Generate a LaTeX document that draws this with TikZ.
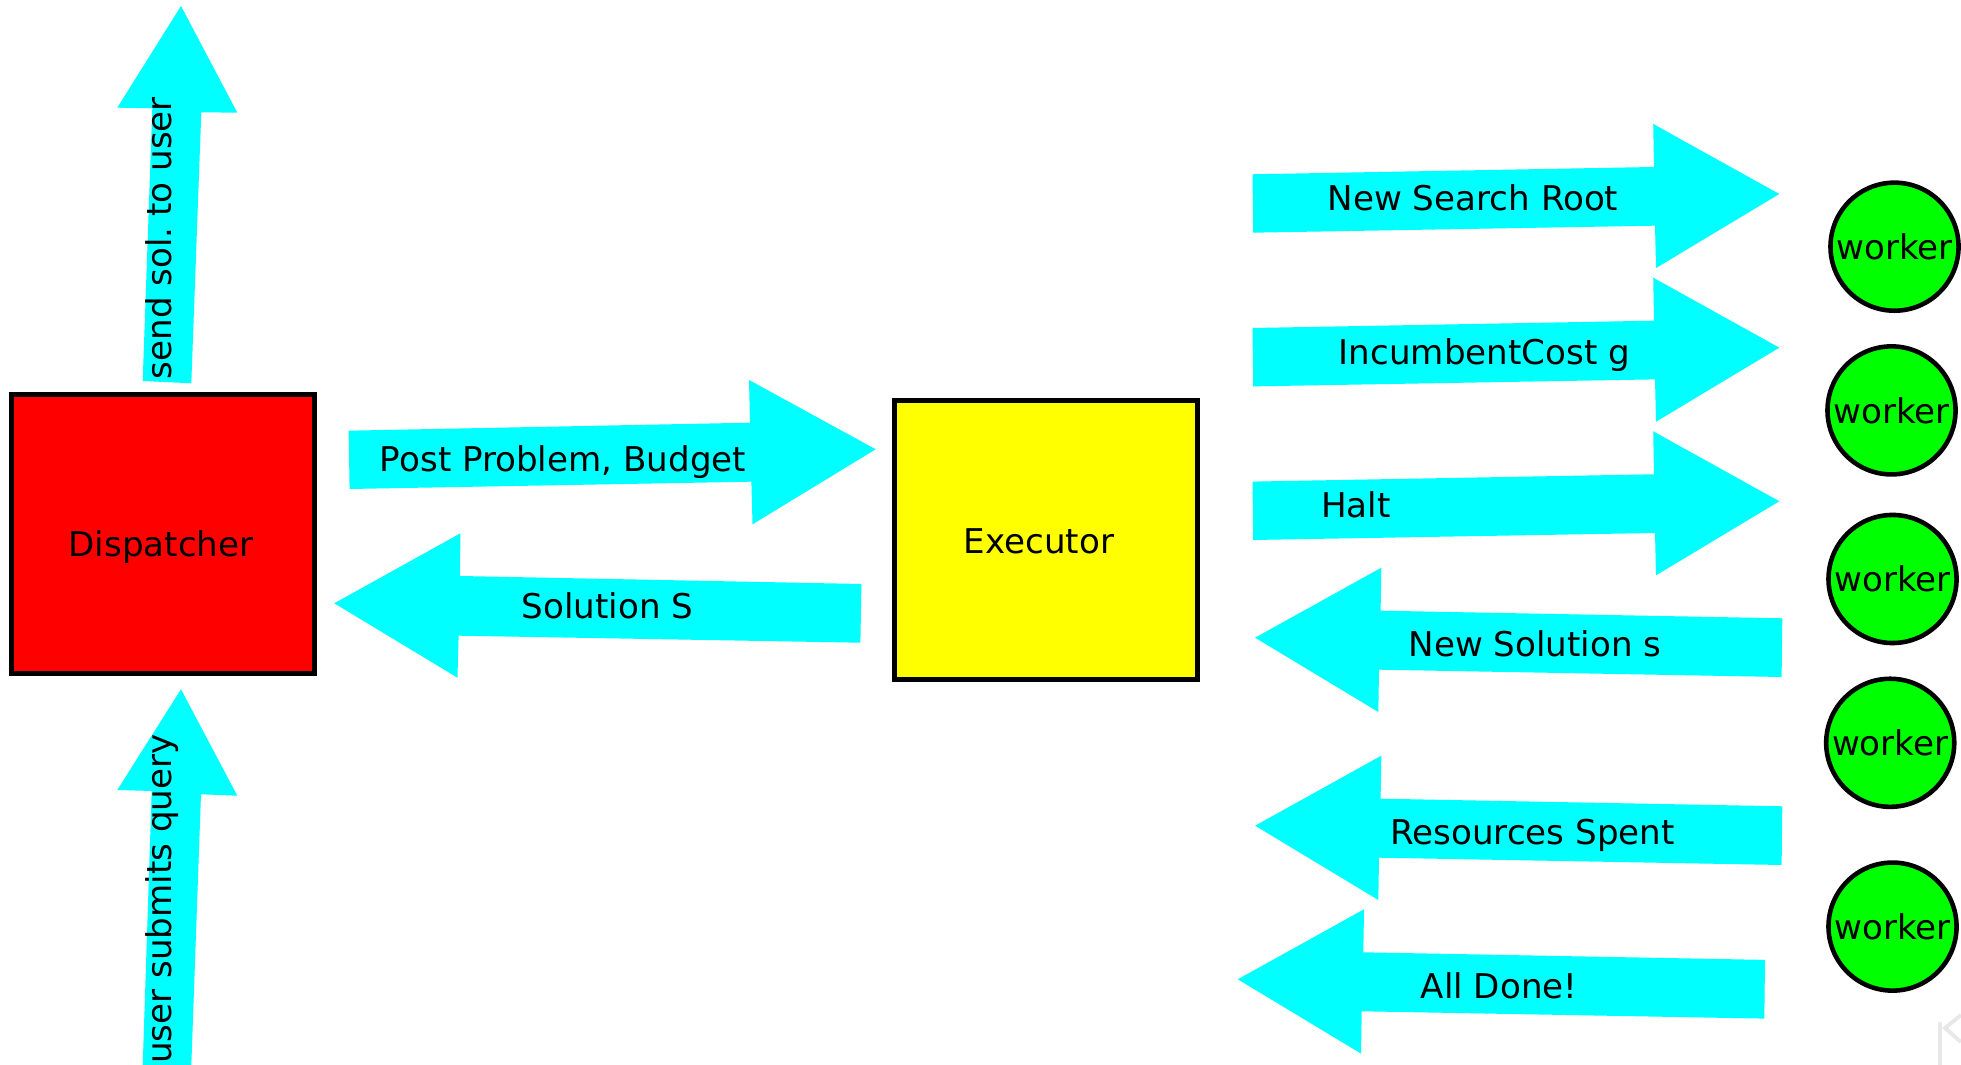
\documentclass[tikz,border=0pt]{standalone}
\usepackage{fontspec}
\setmainfont{DejaVu Sans}
\usetikzlibrary{positioning}
\definecolor{flowcyan}{RGB}{0,255,255}
\definecolor{dispred}{RGB}{255,0,0}
\definecolor{execyellow}{RGB}{255,255,0}
\definecolor{workergreen}{RGB}{0,255,0}

\begin{document}
\begin{tikzpicture}[x=0.01cm,y=-0.01cm,
  lab/.style={font=\fontsize{9.7}{11.5}\selectfont,inner sep=0pt},
  flow/.style={fill=flowcyan},
  unit/.style={draw=black,line width=1.45pt,minimum width=3.03cm,minimum height=2.79cm},
  worker/.style={circle,draw=black,line width=1.3pt,fill=workergreen,minimum size=1.28cm,inner sep=0pt,font=\fontsize{9.7}{11.5}\selectfont}]
\useasboundingbox (0,0) rectangle (1961,1065);
% dispatcher and executor
\node[unit,fill=dispred] (disp) at (163.2,533.7) {};
\node[unit,fill=execyellow] (exec) at (1046.2,539.8) {};
\node[lab,anchor=base] (displab) at (161,556.7) {Dispatcher};
\node[lab,anchor=base] (execlab) at (1039,554) {Executor};
% worker pool
\foreach \i/\x/\y in {1/1894.5/246.7, 2/1891.5/410.4, 3/1892.5/579, 4/1890.2/742.8, 5/1892.5/926.6}
  \node[worker] (w\i) at (\x,\y) {worker};
% user side: query in, solution out
\fill[flow] (181,6) -- (237.3,112.7) -- (201.3,112.3) -- (191.3,383.3) -- (142.7,381) -- (152.3,108.3) -- (117.3,107.7) -- cycle;
\node[lab,rotate=90,anchor=base] (sendlab) at (171.7,238.3) {send sol.\ to user};
\fill[flow] (181,689.3) -- (237.3,795.7) -- (201,794.3) -- (191.3,1066) -- (142.7,1066) -- (151.7,791) -- (117.3,790) -- cycle;
\node[lab,rotate=90,anchor=base] (querylab) at (171.7,899.2) {user submits query};
% dispatcher <-> executor
\fill[flow] (348.6,430.7) -- (750,422.7) -- (749,380) -- (875.7,449.3) -- (752.5,524.3) -- (751.4,481.7) -- (349.6,489) -- cycle;
\node[lab,anchor=base] (postlab) at (563,471.7) {Post Problem, Budget};
\fill[flow] (334.3,603.3) -- (460.4,533.3) -- (460,576) -- (861.4,584) -- (860.4,642.7) -- (458.6,635.7) -- (457.5,677.7) -- cycle;
\node[lab,anchor=base] (sollab) at (607.5,618.3) {Solution S};
% executor -> workers
\foreach \dy/\name/\tx/\txt in {0/rootlab/1473/{New Search Root}, 153.7/costlab/1484.5/{IncumbentCost g}, 307.3/haltlab/1356/{Halt}}{
  \fill[flow,shift={(0,\dy)}] (1252.5,174.3) -- (1654,167) -- (1653.2,124) -- (1779.3,194) -- (1656,268) -- (1655,225.7) -- (1253.2,232.7) -- cycle;
  \node[lab,anchor=base] (\name) at (\tx,210.7+\dy) {\txt};
}
% workers -> executor
\foreach \dx/\dy/\name/\tx/\txt in {0/0/newsollab/1535/{New Solution s}, 0/188/spentlab/1532.6/{Resources Spent}, -17.3/341.6/donelab/1499/{All Done!}}{
  \fill[flow,shift={(\dx,\dy)}] (1255.1,637.7) -- (1381.3,567.7) -- (1380.6,610.7) -- (1782.3,618.3) -- (1781.6,677) -- (1379,669.7) -- (1378.3,712) -- cycle;
  \node[lab,anchor=base] (\name) at (\tx,656.7+\dy) {\txt};
}
% faint mark in the corner
\draw[black!9,line width=1.1pt] (1940,1066) -- (1940,1022);
\draw[black!9,line width=1.1pt] (1961,1015) -- (1945,1028) -- (1961,1042);
\end{tikzpicture}
\end{document}
